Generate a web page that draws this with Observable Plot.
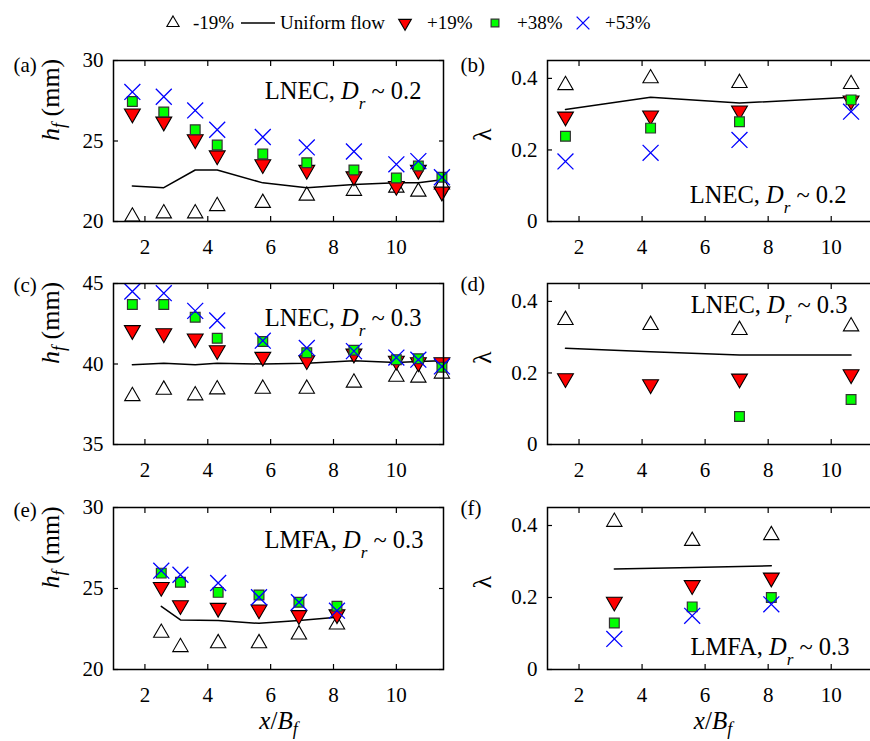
<!DOCTYPE html>
<html><head><meta charset="utf-8">
<script src="https://cdn.jsdelivr.net/npm/d3@7"></script>
<script src="https://cdn.jsdelivr.net/npm/@observablehq/plot@0.6"></script>
<style>
html,body{margin:0;padding:0;background:#fff;}
#root{position:relative;width:870px;height:741px;overflow:hidden;font-family:"Liberation Serif","Times New Roman",Times,serif;}
.cell{position:absolute;}
.cell svg{max-width:none !important;overflow:visible;}
.cell svg text{font-family:"Liberation Serif","Times New Roman",Times,serif !important;font-variant:normal !important;}
.leg{position:absolute;font-size:19px;line-height:19px;white-space:nowrap;color:#000;}
.sw{position:absolute;overflow:visible;}
</style></head><body><div id="root"></div>
<script>
// ---------- data ----------
const xTicks = [2, 4, 6, 8, 10];
const xDomain = [1, 11.5];

// LNEC profiles (panels a, c)
const xLNEC = [1.6, 2.6, 3.6, 4.3, 5.75, 7.15, 8.65, 10.0, 10.7, 11.45];
const a_m19 = [20.3, 20.5, 20.5, 20.95, 21.15, 21.6, 21.9, 22.1, 21.85, 22.3];
const a_uni = [22.2, 22.1, 23.2, 23.2, 22.4, 22.1, 22.3, 22.4, 22.4, 22.6];
const a_p19 = [26.7, 26.2, 25.1, 24.1, 23.55, 23.2, 22.8, 22.2, 23.2, 21.85];
const a_p38 = [27.45, 26.8, 25.7, 24.75, 24.2, 23.65, 23.2, 22.7, 23.45, 22.75];
const a_p53 = [28.05, 27.75, 26.9, 25.7, 25.25, 24.6, 24.35, 23.55, 23.75, 22.75];

const c_m19 = [38.0, 38.4, 38.05, 38.42, 38.46, 38.46, 38.84, 39.2, 39.15, 39.4];
const c_uni = [39.95, 40.05, 39.95, 40.05, 40.0, 40.05, 40.2, 40.1, 40.15, 40.2];
const c_p19 = [42.1, 41.9, 41.58, 40.85, 40.44, 40.23, 40.64, 40.2, 40.1, 40.1];
const c_p38 = [43.7, 43.7, 42.9, 41.6, 41.4, 40.7, 40.85, 40.27, 40.33, 39.8];
const c_p53 = [44.5, 44.4, 43.3, 42.7, 41.45, 41.0, 40.8, 40.4, 40.27, 39.85];

// LNEC lambda (panels b, d)
const xLam = [1.57, 4.27, 7.09, 10.63];
const b_m19 = [0.381, 0.400, 0.387, 0.384];
const b_uni = [0.313, 0.347, 0.331, 0.347];
const b_p19 = [0.293, 0.296, 0.310, 0.338];
const b_p38 = [0.238, 0.261, 0.279, 0.340];
const b_p53 = [0.168, 0.192, 0.228, 0.307];

const d_m19 = [0.348, 0.334, 0.320, 0.330];
const d_uni = [0.269, 0.259, 0.250, 0.250];
const d_p19 = [0.185, 0.168, 0.184, 0.196];
const d_p38 = [null, null, 0.078, 0.126];
const d_p53 = [null, null, null, null];

// LMFA (panels e, f)
const xLMFA = [2.52, 3.13, 4.33, 5.63, 6.9, 8.11];
const e_m19 = [22.26, 21.38, 21.62, 21.62, 22.16, 22.77];
const e_uni = [23.9, 23.06, 23.02, 22.85, 23.02, 23.22];
const e_p19 = [25.09, 23.96, 23.8, 23.7, 23.35, 23.4];
const e_p38 = [25.95, 25.38, 24.76, 24.6, 24.15, 23.9];
const e_p53 = [26.1, 25.85, 25.34, 24.46, 24.15, 23.63];

const xLMFAlam = [3.12, 5.59, 8.1];
const f_m19 = [0.410, 0.357, 0.373];
const f_uni = [0.279, 0.283, 0.288];
const f_p19 = [0.188, 0.234, 0.255];
const f_p38 = [0.129, 0.174, 0.200];
const f_p53 = [0.085, 0.149, 0.181];

const seriesNames = ["-19%", "Uniform flow", "+19%", "+38%", "+53%"];

// ---------- styles ----------
const FONT = '"Liberation Serif","Times New Roman",Times,serif';
const sty = {
  m19: {symbol: "triangle", r: 5.7, fill: "white", stroke: "black", strokeWidth: 1.1},
  p19: {symbol: "triangle", rotate: 180, r: 5.9, fill: "#ff0000", stroke: "black", strokeWidth: 1.1},
  p38: {symbol: "square", r: 5.5, fill: "#00ff00", stroke: "#333", strokeWidth: 1.2},
  p53: {symbol: "times", r: 7.3, fill: "none", stroke: "#0000ff", strokeWidth: 1.3}
};

const sub = 'font-style="italic" font-size="17" dy="10"';
const RICH = {
  "LNEC, D_r ~ 0.2": `LNEC, <tspan font-style="italic">D</tspan><tspan ${sub}>r</tspan><tspan dy="-10"> ~ 0.2</tspan>`,
  "LNEC, D_r ~ 0.3": `LNEC, <tspan font-style="italic">D</tspan><tspan ${sub}>r</tspan><tspan dy="-10"> ~ 0.3</tspan>`,
  "LMFA, D_r ~ 0.3": `LMFA, <tspan font-style="italic">D</tspan><tspan ${sub}>r</tspan><tspan dy="-10"> ~ 0.3</tspan>`,
  "h_f (mm)": '<tspan font-style="italic">h</tspan><tspan font-style="italic" font-size="18" dy="6">f</tspan><tspan dy="-6"> (mm)</tspan>',
  "x/B_f": '<tspan font-style="italic">x</tspan>/<tspan font-style="italic">B</tspan><tspan font-style="italic" font-size="18" dy="6">f</tspan>'
};

function pts(xs, ys) { return xs.map((x, i) => ({x, y: ys[i]})).filter(d => d.y != null); }

function panel(cfg) {
  const {xs, s, yDomain, yTicks, yLabel, tag, note, noteAnchor, noteDx, noteDy, tagDx, tagDy, yLabDx,
         left, top, mLeft, mRight, frameW, frameH, mBottom, xLabel} = cfg;
  const mTop = 20;
  const ax = {label: null, strokeWidth: 1.2, fontFamily: FONT, fontVariant: "normal"};
  const plot = Plot.plot({
    width: mLeft + frameW + mRight,
    height: mTop + frameH + mBottom,
    marginLeft: mLeft, marginRight: mRight, marginTop: mTop, marginBottom: mBottom,
    x: {domain: xDomain},
    y: {domain: yDomain},
    style: {fontFamily: FONT, fontSize: "21px", background: "transparent", color: "black", overflow: "visible"},
    marks: [
      Plot.axisX({...ax, ticks: xTicks, tickSize: -5, tickPadding: 23, tickFormat: d => String(d)}),
      Plot.axisX({...ax, anchor: "top", ticks: xTicks, tickSize: -5, tickFormat: () => ""}),
      Plot.axisY({...ax, ticks: yTicks, tickSize: -5, tickPadding: 15, tickFormat: d => String(d)}),
      Plot.axisY({...ax, anchor: "right", ticks: yTicks, tickSize: -5, tickFormat: () => ""}),
      Plot.dot(pts(xs, s[0]), {x: "x", y: "y", ...sty.m19}),
      Plot.line(pts(xs, s[1]), {x: "x", y: "y", stroke: "black", strokeWidth: 1.5}),
      Plot.dot(pts(xs, s[2]), {x: "x", y: "y", ...sty.p19}),
      Plot.dot(pts(xs, s[3]), {x: "x", y: "y", ...sty.p38}),
      Plot.dot(pts(xs, s[4]), {x: "x", y: "y", ...sty.p53}),
      Plot.frame({stroke: "black", strokeWidth: 1.5}),
      Plot.text([tag], {frameAnchor: "top-left", dx: tagDx, dy: tagDy, textAnchor: "start", lineAnchor: "middle", fontSize: 21, fontFamily: FONT}),
      Plot.text([yLabel], {frameAnchor: "left", rotate: -90, dx: yLabDx, lineAnchor: "middle", fontSize: 26, fontFamily: FONT}),
      Plot.text([note], {frameAnchor: noteAnchor, dx: noteDx, dy: noteDy, textAnchor: "end", lineAnchor: "middle", fontSize: 24.5, fontFamily: FONT}),
      xLabel ? Plot.text([xLabel], {frameAnchor: "bottom", dy: 51, lineAnchor: "middle", fontSize: 25, fontFamily: FONT}) : null
    ]
  });
  plot.querySelectorAll("text").forEach(t => {
    const k = t.textContent;
    if (RICH[k]) t.innerHTML = RICH[k];
  });
  const div = document.createElement("div");
  div.className = "cell";
  div.style.left = left + "px";
  div.style.top = (top - mTop) + "px";
  div.appendChild(plot);
  document.getElementById("root").appendChild(div);
}

const L = {left: 0, mLeft: 113, mRight: 12, frameW: 330};
const R = {left: 440, mLeft: 107, mRight: 2, frameW: 331};

panel({...L, top: 60, frameH: 161, mBottom: 40, xs: xLNEC, s: [a_m19, a_uni, a_p19, a_p38, a_p53],
  yDomain: [20, 30], yTicks: [20, 25, 30], yLabel: "h_f (mm)", yLabDx: -63, tag: "(a)", tagDx: -100, tagDy: 5,
  note: "LNEC, D_r ~ 0.2", noteAnchor: "top-right", noteDx: -22, noteDy: 31});
panel({...R, top: 60, frameH: 161, mBottom: 40, xs: xLam, s: [b_m19, b_uni, b_p19, b_p38, b_p53],
  yDomain: [0, 0.45], yTicks: [0, 0.2, 0.4], yLabel: "λ", yLabDx: -65, tag: "(b)", tagDx: -87, tagDy: 5,
  note: "LNEC, D_r ~ 0.2", noteAnchor: "bottom-right", noteDx: -32, noteDy: -26});
panel({...L, top: 283, frameH: 161, mBottom: 40, xs: xLNEC, s: [c_m19, c_uni, c_p19, c_p38, c_p53],
  yDomain: [35, 45], yTicks: [35, 40, 45], yLabel: "h_f (mm)", yLabDx: -63, tag: "(c)", tagDx: -100, tagDy: 2,
  note: "LNEC, D_r ~ 0.3", noteAnchor: "top-right", noteDx: -22, noteDy: 35});
panel({...R, top: 283, frameH: 161, mBottom: 40, xs: xLam, s: [d_m19, d_uni, d_p19, d_p38, d_p53],
  yDomain: [0, 0.45], yTicks: [0, 0.2, 0.4], yLabel: "λ", yLabDx: -65, tag: "(d)", tagDx: -87, tagDy: 1,
  note: "LNEC, D_r ~ 0.3", noteAnchor: "top-right", noteDx: -31, noteDy: 22});
panel({...L, top: 507, frameH: 162, mBottom: 70, xs: xLMFA, s: [e_m19, e_uni, e_p19, e_p38, e_p53],
  yDomain: [20, 30], yTicks: [20, 25, 30], yLabel: "h_f (mm)", yLabDx: -63, tag: "(e)", tagDx: -100, tagDy: 3,
  note: "LMFA, D_r ~ 0.3", noteAnchor: "top-right", noteDx: -20, noteDy: 33, xLabel: "x/B_f"});
panel({...R, top: 507, frameH: 162, mBottom: 70, xs: xLMFAlam, s: [f_m19, f_uni, f_p19, f_p38, f_p53],
  yDomain: [0, 0.45], yTicks: [0, 0.2, 0.4], yLabel: "λ", yLabDx: -65, tag: "(f)", tagDx: -87, tagDy: 1,
  note: "LMFA, D_r ~ 0.3", noteAnchor: "bottom-right", noteDx: -29, noteDy: -22, xLabel: "x/B_f"});

// ---------- legend ----------
const root = document.getElementById("root");
const legY = 23;
const legSw = [173, 258, 405, 495, 583];
const legTx = [193, 280, 427, 517, 605];
const legKinds = ["m19", "uni", "p19", "p38", "p53"];
const legScale = 0.8;
legKinds.forEach((k, i) => {
  const ns = "http://www.w3.org/2000/svg";
  const svg = document.createElementNS(ns, "svg");
  svg.setAttribute("class", "sw");
  svg.setAttribute("width", 40); svg.setAttribute("height", 24);
  svg.style.left = (legSw[i] - 20) + "px";
  svg.style.top = (legY - 12) + "px";
  const g = document.createElementNS(ns, "g");
  g.setAttribute("transform", "translate(20,12)");
  svg.appendChild(g);
  if (k === "uni") {
    const p = document.createElementNS(ns, "path");
    p.setAttribute("d", "M-17,0H17");
    p.setAttribute("stroke", "black"); p.setAttribute("stroke-width", 1.5);
    g.appendChild(p);
  } else {
    const st = sty[k];
    const symType = {triangle: d3.symbolTriangle, square: d3.symbolSquare, times: d3.symbolTimes}[st.symbol];
    const rr = st.r * legScale;
    const p = document.createElementNS(ns, "path");
    p.setAttribute("d", d3.symbol(symType, Math.PI * rr * rr)());
    p.setAttribute("fill", st.fill);
    p.setAttribute("stroke", st.stroke);
    p.setAttribute("stroke-width", st.strokeWidth);
    if (st.rotate) p.setAttribute("transform", `rotate(${st.rotate})`);
    g.appendChild(p);
  }
  root.appendChild(svg);
  const t = document.createElement("div");
  t.className = "leg";
  t.textContent = seriesNames[i];
  t.style.left = legTx[i] + "px";
  t.style.top = (legY - 10) + "px";
  root.appendChild(t);
});
</script></body></html>
